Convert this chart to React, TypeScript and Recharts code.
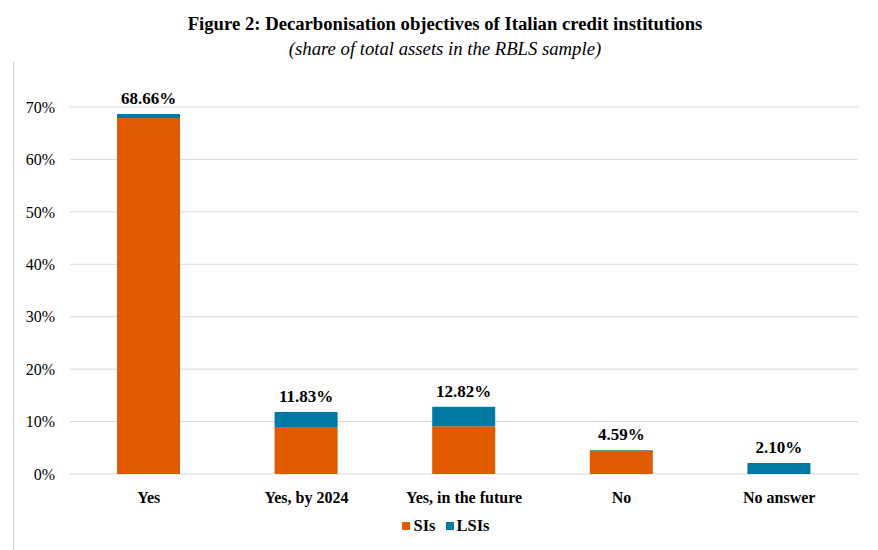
import { Bar, BarChart, CartesianGrid, LabelList, XAxis, YAxis } from "recharts";

const categories = ["Yes", "Yes, by 2024", "Yes, in the future", "No", "No answer"];
const siShares = [67.9, 8.83, 9.1, 4.5, 0];
const lsiShares = [0.76, 3.0, 3.72, 0.09, 2.1];
const totals = [68.66, 11.83, 12.82, 4.59, 2.1];
const yTicks = [0, 10, 20, 30, 40, 50, 60, 70];

const ORANGE = "#E05A00";
const BLUE = "#007AA3";
const FONT = "'Liberation Serif', 'Times New Roman', serif";

const data = categories.map((category, i) => ({
  category,
  si: siShares[i],
  lsi: lsiShares[i],
  total: totals[i],
}));

function ChartLegend() {
  const item = (color: string, text: string) => (
    <span style={{ display: "inline-flex", alignItems: "center", margin: "0 5px" }}>
      <span style={{ width: 8, height: 8, background: color, display: "inline-block", marginRight: 3 }} />
      <span>{text}</span>
    </span>
  );
  return (
    <div style={{ position: "absolute", left: 0, top: 515, width: 878, textAlign: "center", fontWeight: "bold", fontSize: 16.5, color: "#000", paddingLeft: 14, boxSizing: "border-box" }}>
      {item(ORANGE, "SIs")}
      {item(BLUE, "LSIs")}
    </div>
  );
}

export default function App() {
  return (
    <div style={{ position: "absolute", left: 0, top: 0, width: 878, height: 550, background: "#fff", fontFamily: FONT }}>
      <style>{`svg text, svg tspan { font-family: ${FONT}; }`}</style>
      <div style={{ position: "absolute", left: 13, top: 62, width: 1, height: 488, background: "#c8c8c8" }} />
      <div style={{ position: "absolute", left: 0, width: 878, top: 11, textAlign: "center", paddingLeft: 12, boxSizing: "border-box" }}>
        <div style={{ fontWeight: "bold", fontSize: 18.7, lineHeight: "25px" }}>
          Figure 2: Decarbonisation objectives of Italian credit institutions
        </div>
        <div style={{ fontStyle: "italic", fontSize: 18.7, lineHeight: "25px" }}>
          (share of total assets in the RBLS sample)
        </div>
      </div>
      <div style={{ position: "absolute", left: 0, top: 0 }}>
        <BarChart width={878} height={550} data={data} margin={{ top: 107, right: 20, bottom: 46, left: 0 }}>
          <CartesianGrid vertical={false} stroke="#d9d9d9" />
          <XAxis
            dataKey="category"
            height={30}
            axisLine={false}
            tickLine={false}
            tickMargin={12}
            tick={{ fill: "#000", fontSize: 16, fontWeight: "bold" }}
          />
          <YAxis
            width={70}
            domain={[0, 70]}
            ticks={yTicks}
            axisLine={false}
            tickLine={false}
            tickSize={0}
            tickMargin={15}
            tickFormatter={(v: number) => `${v}%`}
            tick={{ fill: "#000", fontSize: 16 }}
          />
          <Bar dataKey="si" name="SIs" stackId="a" fill={ORANGE} barSize={63} isAnimationActive={false} />
          <Bar dataKey="lsi" name="LSIs" stackId="a" fill={BLUE} barSize={63} isAnimationActive={false}>
            <LabelList
              dataKey="total"
              position="top"
              offset={10}
              formatter={(v: number) => `${v.toFixed(2)}%`}
              fill="#000"
              fontSize={17}
              fontWeight="bold"
            />
          </Bar>
        </BarChart>
      </div>
      <ChartLegend />
    </div>
  );
}
